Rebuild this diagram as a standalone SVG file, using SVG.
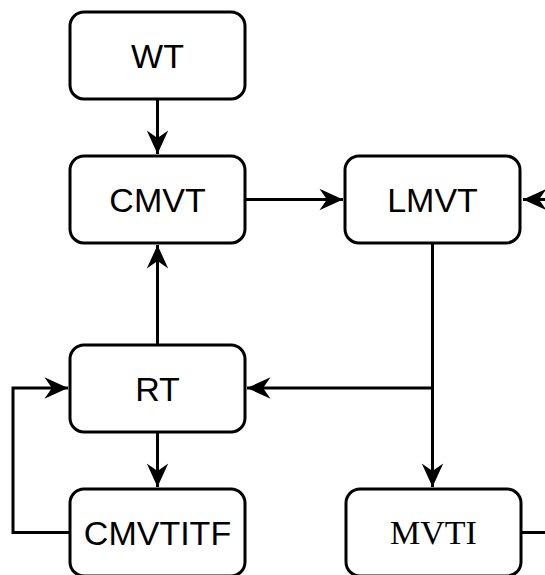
<svg xmlns="http://www.w3.org/2000/svg" width="545" height="575" viewBox="0 0 545 575">
<defs>
<marker id="arr" markerUnits="userSpaceOnUse" markerWidth="30" markerHeight="30" viewBox="-26 -12 28 24" refX="0" refY="0" orient="auto" overflow="visible">
<path d="M0,0 L-22,-10 L-15,0 L-22,10 Z" fill="#000"/>
</marker>
<style>
.box{fill:#fff;stroke:#000;stroke-width:3}
.lbl{font-family:"Liberation Sans",Arial,sans-serif;font-size:34px;text-anchor:middle;dominant-baseline:central;fill:#000}
.ser{font-family:"Liberation Serif","Times New Roman",serif;font-size:34px;text-anchor:middle;dominant-baseline:central;fill:#000}
.ln{fill:none;stroke:#000;stroke-width:3}
.ah{marker-end:url(#arr)}
</style>
</defs>
<rect width="545" height="575" fill="#fff"/>
<g id="connectors">
<path class="ln ah" d="M157.5,99 L157.5,154"/>
<path class="ln ah" d="M245,199.5 L343,199.5"/>
<path class="ln ah" d="M548,199.5 L523,199.5"/>
<path class="ln ah" d="M157.5,345 L157.5,245"/>
<path class="ln ah" d="M432.5,243 L432.5,487"/>
<path class="ln ah" d="M432.5,388 L247,388"/>
<path class="ln ah" d="M157.5,432 L157.5,487"/>
<path class="ln ah" d="M70,532.5 L13,532.5 L13,388 L68,388"/>
<path class="ln" d="M521,532.5 L548,532.5"/>
</g>
<g id="WT"><rect class="box" x="70" y="12" width="175" height="87" rx="14"/><text class="lbl" x="157.5" y="55.5">WT</text></g>
<g id="CMVT"><rect class="box" x="70" y="156" width="175" height="87" rx="14"/><text class="lbl" x="157.5" y="199.5">CMVT</text></g>
<g id="LMVT"><rect class="box" x="345" y="156" width="175" height="87" rx="14"/><text class="lbl" x="432.5" y="199.5">LMVT</text></g>
<g id="RT"><rect class="box" x="70" y="345" width="175" height="87" rx="14"/><text class="lbl" x="157.5" y="388.5">RT</text></g>
<g id="CMVTITF"><rect class="box" x="70" y="489" width="175" height="87" rx="14"/><text class="lbl" x="157.5" y="532.5">CMVTITF</text></g>
<g id="MVTI"><rect class="box" x="346" y="489" width="175" height="87" rx="14"/><text class="ser" x="433.5" y="532.5">MVTI</text></g>
</svg>
